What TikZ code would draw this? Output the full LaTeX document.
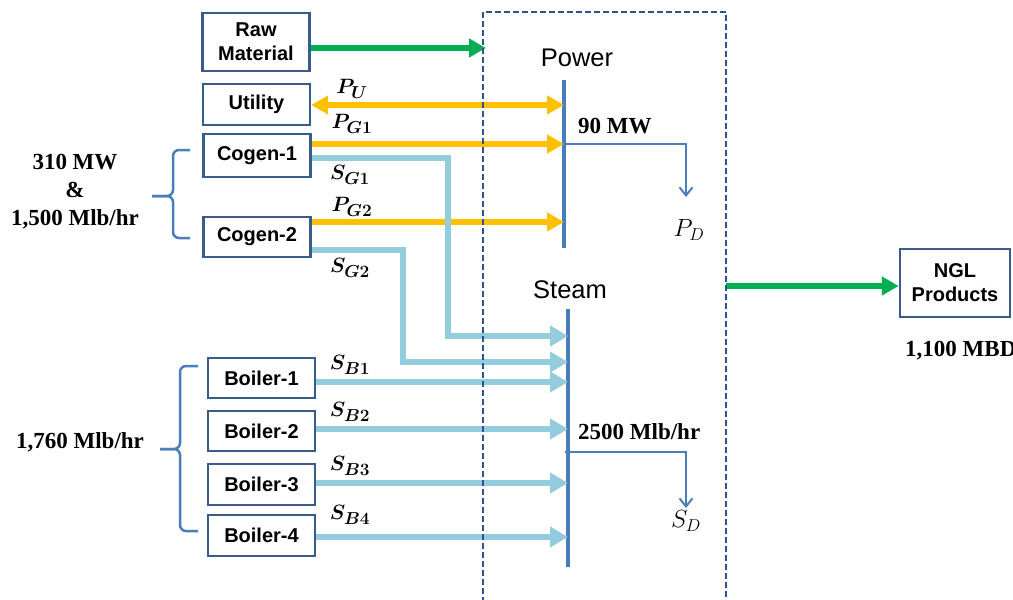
\documentclass[tikz,border=0pt]{standalone}
\usepackage{fontspec}
\setmainfont{Liberation Serif}
\setsansfont{Liberation Sans}
\usepackage{bm}
\DeclareMathSizes{21}{21}{16}{12}
\DeclareMathSizes{26}{26}{19}{14}
\DeclareMathSizes{24}{24}{18}{13}
\usetikzlibrary{arrows.meta}
\definecolor{boxblue}{HTML}{385D8A}
\definecolor{barblue}{HTML}{4A7EBB}
\definecolor{orng}{HTML}{FFC000}
\definecolor{grn}{HTML}{00B050}
\definecolor{stm}{HTML}{93CDDD}
\definecolor{dashblue}{HTML}{2F528F}
\tikzset{
  box/.style={draw=boxblue, line width=2.4pt, fill=white, align=center, inner sep=0pt,
    minimum width=107pt, font=\sffamily\bfseries\fontsize{20}{24}\selectfont},
  greenarrow/.style={draw=grn, line width=6pt, -{Triangle[length=17pt,width=18pt]}},
  pwr/.style={draw=orng, line width=6pt, -{Triangle[length=17pt,width=18pt]}},
  pwrdbl/.style={draw=orng, line width=6pt, {Triangle[length=17pt,width=18pt]}-{Triangle[length=17pt,width=18pt]}},
  stmarrow/.style={draw=stm, line width=5.5pt, -{Triangle[length=18pt,width=20pt]}},
  busbar/.style={draw=barblue, line width=4.5pt},
  dem/.style={draw=barblue, line width=2pt, -{Straight Barb[length=8pt,width=13pt]}},
  brc/.style={draw=barblue, line width=2.5pt, rounded corners=6pt},
  lbl/.style={font=\fontsize{21}{24}\selectfont, inner sep=0pt},
  val/.style={font=\bfseries\fontsize{23}{28}\selectfont, inner sep=0pt},
  dbox/.style={draw=dashblue, line width=2pt, dash pattern=on 6pt off 3pt},
  head/.style={font=\sffamily\fontsize{25.5}{28}\selectfont, inner sep=0pt}
}
\begin{document}
\begin{tikzpicture}[x=1pt,y=-1pt]
\useasboundingbox (0,0) rectangle (1013,600);
% boxes
\node[box, minimum height=58pt] (raw) at (256,42) {Raw\\Material};
\node[box, minimum height=41pt] (util) at (256.5,104.5) {Utility};
\node[box, minimum height=43pt] (cg1) at (257,155.5) {Cogen-1};
\node[box, minimum height=40pt] (cg2) at (257,237) {Cogen-2};
\node[box, minimum height=40pt] (b1) at (261.5,378) {Boiler-1};
\node[box, minimum height=40pt] (b2) at (261.5,431) {Boiler-2};
\node[box, minimum height=41pt] (b3) at (261.5,484.5) {Boiler-3};
\node[box, minimum height=41pt] (b4) at (261.5,535.5) {Boiler-4};
\node[box, minimum width=110pt, minimum height=68pt] (ngl) at (955,283) {NGL\\Products};
% bars
\coordinate (pwT) at (564,80);
\coordinate (pwB) at (564,248);
\coordinate (stT) at (568,309);
\coordinate (stB) at (568,567);
\draw[busbar] (pwT) -- (pwB);
\draw[busbar] (stT) -- (stB);
\node[head] (power) at (577,58) {Power};
\node[head] (steam) at (570,290) {Steam};
% green arrows
\coordinate (rawtip) at (486,48);
\draw[greenarrow] (raw.east |- rawtip) -- (rawtip);
\coordinate (ngltail) at (726,286);
\draw[greenarrow] (ngltail) -- (ngl.west |- ngltail);
% power arrows
\coordinate (pu) at (564,105);
\coordinate (pg1) at (564,144);
\coordinate (pg2) at (564,222);
\draw[pwrdbl] (util.east |- pu) -- (pu);
\draw[pwr] (cg1.east |- pg1) -- (pg1);
\draw[pwr] (cg2.east |- pg2) -- (pg2);
% steam arrows
\coordinate (sg1a) at (448,158);
\coordinate (sg1b) at (448,336);
\coordinate (sg1c) at (568,336);
\draw[stmarrow] (cg1.east |- sg1a) -- (sg1a) -- (sg1b) -- (sg1c);
\coordinate (sg2a) at (403,250);
\coordinate (sg2b) at (403,362);
\coordinate (sg2c) at (568,362);
\draw[stmarrow] (cg2.east |- sg2a) -- (sg2a) -- (sg2b) -- (sg2c);
\coordinate (sb1) at (568,382);
\coordinate (sb2) at (568,429);
\coordinate (sb3) at (568,483);
\coordinate (sb4) at (568,537);
\draw[stmarrow] (b1.east |- sb1) -- (sb1);
\draw[stmarrow] (b2.east |- sb2) -- (sb2);
\draw[stmarrow] (b3.east |- sb3) -- (sb3);
\draw[stmarrow] (b4.east |- sb4) -- (sb4);
% flow labels
\node[lbl] (lpu) at (352,89) {$\bm{P_U}$};
\node[lbl] (lpg1) at (352,124) {$\bm{P_{G1}}$};
\node[lbl] (lsg1) at (350,175) {$\bm{S_{G1}}$};
\node[lbl] (lpg2) at (352,207) {$\bm{P_{G2}}$};
\node[lbl] (lsg2) at (350,268) {$\bm{S_{G2}}$};
\node[lbl] (lsb1) at (350,365) {$\bm{S_{B1}}$};
\node[lbl] (lsb2) at (350,412) {$\bm{S_{B2}}$};
\node[lbl] (lsb3) at (350,466) {$\bm{S_{B3}}$};
\node[lbl] (lsb4) at (350,515) {$\bm{S_{B4}}$};
% demands
\node[val, anchor=west] (pval) at (578,126) {90 MW};
\node[val, anchor=west] (sval) at (578,432) {2500 Mlb/hr};
\node[font=\fontsize{26}{30}\selectfont, inner sep=0pt] (PD) at (689,230) {$P_D$};
\node[font=\fontsize{24}{28}\selectfont, inner sep=0pt] (SD) at (686,521) {$S_D$};
\coordinate (pdc) at (686,144);
\coordinate (pdtip) at (686,197);
\draw[dem] (pg1) -- (pdc) -- (pdtip);
\coordinate (sds) at (565,452);
\coordinate (sdc) at (686,452);
\coordinate (sdtip) at (686,508);
\draw[dem] (sds) -- (sdc) -- (sdtip);
% side values
\node[val, align=center] (cgval) at (75,192) {310 MW\\\&\\1,500 Mlb/hr};
\node[val] (bval) at (80,442) {1,760 Mlb/hr};
\node[val, anchor=west] (nglval) at (905,351) {1,100 MBD};
% braces
\draw[brc] (190,150) -- (173,150) -- (173,196) -- (152,196);
\draw[brc] (152,196) -- (173,196) -- (173,238) -- (190,238);
\draw[brc] (198,366) -- (180,366) -- (180,449) -- (160,449);
\draw[brc] (160,449) -- (180,449) -- (180,531) -- (198,531);
% dashed boundary
\draw[dbox] (483,612) -- (483,12) -- (726,12) -- (726,612);
\end{tikzpicture}
\end{document}
